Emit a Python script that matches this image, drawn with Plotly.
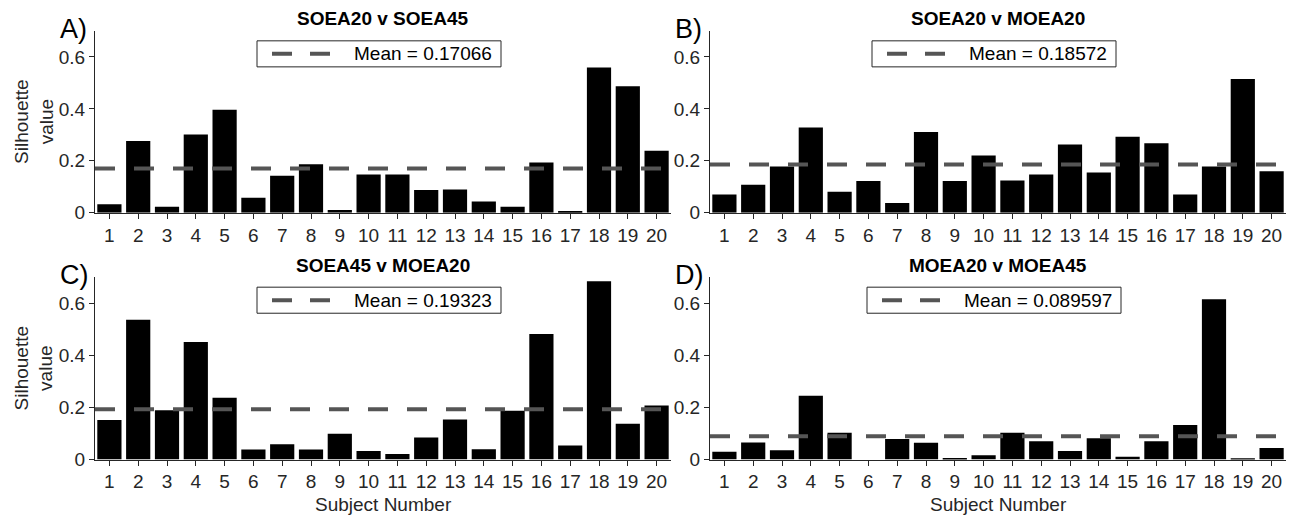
import plotly.graph_objects as go

subjects = list(range(1, 21))
titles = ["SOEA20 v SOEA45", "SOEA20 v MOEA20", "SOEA45 v MOEA20", "MOEA20 v MOEA45"]
letters = ["A)", "B)", "C)", "D)"]
means = [0.17066, 0.18572, 0.19323, 0.089597]

soea20_soea45 = [0.033, 0.276, 0.023, 0.301, 0.397, 0.058, 0.143, 0.187, 0.011, 0.147,
                 0.147, 0.088, 0.090, 0.043, 0.023, 0.194, 0.006, 0.560, 0.487, 0.239]
soea20_moea20 = [0.070, 0.108, 0.178, 0.328, 0.081, 0.122, 0.038, 0.311, 0.122, 0.221,
                 0.124, 0.147, 0.263, 0.155, 0.293, 0.268, 0.070, 0.178, 0.515, 0.160]
soea45_moea20 = [0.152, 0.537, 0.189, 0.452, 0.237, 0.038, 0.059, 0.038, 0.099, 0.033,
                 0.021, 0.085, 0.154, 0.039, 0.187, 0.482, 0.054, 0.685, 0.137, 0.208]
moea20_moea45 = [0.030, 0.065, 0.036, 0.245, 0.103, 0.000, 0.079, 0.064, 0.006, 0.016,
                 0.103, 0.070, 0.033, 0.082, 0.011, 0.070, 0.133, 0.616, 0.005, 0.044]
series = [soea20_soea45, soea20_moea20, soea45_moea20, moea20_moea45]

ytick_vals = [0, 0.2, 0.4, 0.6]
ytick_text = ["0", "0.2", "0.4", "0.6"]

W, H = 1298, 527
FONT = "Liberation Sans, Arial, Helvetica, sans-serif"
AX = "#262626"
MEANC = "#555555"

# pixel boxes of the four axes: (left, right, top, bottom)
boxes = [(95, 671, 31.7, 217.3), (710, 1286, 31.7, 217.3),
         (95, 671, 283.3, 469.3), (710, 1286, 283.3, 469.3)]

def px(x):
    return x / W

def py(y):
    return 1 - y / H

fig = go.Figure()
annotations = []
shapes = []

for i in range(4):
    l, r, t, b = boxes[i]
    xa = "x" if i == 0 else f"x{i+1}"
    ya = "y" if i == 0 else f"y{i+1}"
    fig.add_trace(go.Bar(x=subjects, y=series[i], width=0.84,
                         marker=dict(color="black", line=dict(width=0)),
                         xaxis=xa, yaxis=ya, showlegend=False))
    fig.add_trace(go.Scatter(x=[0.5, 20.5], y=[means[i], means[i]], mode="lines",
                             line=dict(color=MEANC, width=4, dash="20px,19px"),
                             xaxis=xa, yaxis=ya, showlegend=False))
    axkey = "xaxis" if i == 0 else f"xaxis{i+1}"
    aykey = "yaxis" if i == 0 else f"yaxis{i+1}"
    fig.update_layout(**{
        axkey: dict(domain=[px(l), px(r)], range=[0.5, 20.5], anchor=ya,
                    tickvals=subjects, ticktext=[str(s) for s in subjects],
                    showline=True, linecolor=AX, linewidth=1, ticks="outside",
                    ticklen=5, tickcolor=AX, showgrid=False, zeroline=False,
                    tickfont=dict(family=FONT, size=19, color=AX)),
        aykey: dict(domain=[py(b), py(t)], range=[0, 0.7], anchor=xa,
                    tickvals=ytick_vals, ticktext=ytick_text,
                    showline=True, linecolor=AX, linewidth=1, ticks="outside",
                    ticklen=5, tickcolor=AX, showgrid=False, zeroline=False,
                    tickfont=dict(family=FONT, size=19, color=AX)),
    })
    cx = (l + r) / 2
    # title
    annotations.append(dict(text=f"<b>{titles[i]}</b>", x=px(cx), y=py(t - 12.4),
                            xref="paper", yref="paper", xanchor="center", yanchor="middle",
                            showarrow=False, font=dict(family=FONT, size=19, color="black")))
    # panel letter
    annotations.append(dict(text=letters[i], x=px(l - 37), y=py(t - 2), xref="paper", yref="paper",
                            xanchor="left", yanchor="middle", showarrow=False,
                            font=dict(family=FONT, size=27, color="black")))
    # legend box
    label = f"Mean = {means[i]:g}"
    tw = len(label) * 10.0
    bw = 95 + tw + 9
    bl = cx - 4 - bw / 2
    bt, bb = t + 10, t + 36.6
    shapes.append(dict(type="rect", xref="paper", yref="paper", x0=px(bl), x1=px(bl + bw),
                       y0=py(bb), y1=py(bt), line=dict(color=AX, width=1), fillcolor="white", layer="above"))
    shapes.append(dict(type="line", xref="paper", yref="paper", x0=px(bl + 15), x1=px(bl + 73),
                       y0=py((bt + bb) / 2), y1=py((bt + bb) / 2),
                       line=dict(color=MEANC, width=4, dash="20px,18px"), layer="above"))
    annotations.append(dict(text=label, x=px(bl + 95), y=py((bt + bb) / 2), xref="paper", yref="paper",
                            xanchor="left", yanchor="middle", showarrow=False,
                            font=dict(family=FONT, size=19, color="black")))
    # y-axis label (left column)
    if i in (0, 2):
        annotations.append(dict(text="Silhouette<br>value", x=px(l - 61), y=py((t + b) / 2),
                                xref="paper", yref="paper", xanchor="center", yanchor="middle",
                                textangle=-90, showarrow=False,
                                font=dict(family=FONT, size=19, color=AX)))
    # x-axis label (bottom row)
    if i in (2, 3):
        annotations.append(dict(text="Subject Number", x=px(cx), y=py(b + 46), xref="paper", yref="paper",
                                xanchor="center", yanchor="middle", showarrow=False,
                                font=dict(family=FONT, size=19, color=AX)))

fig.update_layout(width=W, height=H, autosize=False,
                  margin=dict(l=0, r=0, t=0, b=0),
                  paper_bgcolor="white", plot_bgcolor="white",
                  bargap=0.16, showlegend=False,
                  annotations=annotations, shapes=shapes)

fig.write_html("out.html")
